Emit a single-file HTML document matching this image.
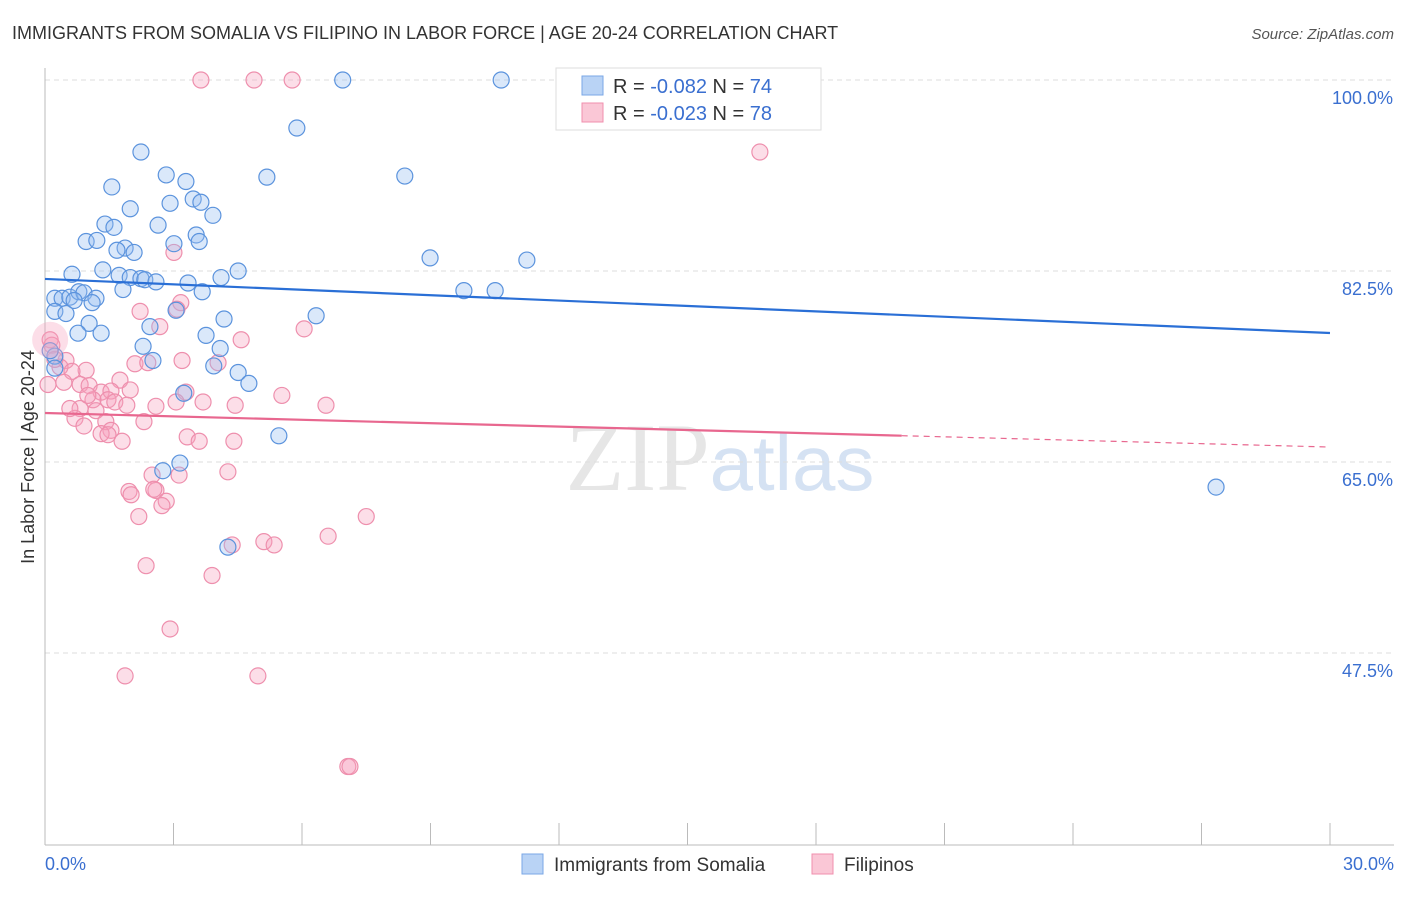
<!DOCTYPE html>
<html><head><meta charset="utf-8"><style>
body{margin:0;background:#fff;font-family:"Liberation Sans",sans-serif;}
</style></head><body>
<svg id="chart" width="1406" height="892" xmlns="http://www.w3.org/2000/svg" font-family="Liberation Sans, sans-serif">
<text x="12" y="39" font-size="18" fill="#333">IMMIGRANTS FROM SOMALIA VS FILIPINO IN LABOR FORCE | AGE 20-24 CORRELATION CHART</text>
<text x="1394" y="39" font-size="15" fill="#555" text-anchor="end" font-style="italic">Source: ZipAtlas.com</text>
<text x="720" y="490" font-size="96" text-anchor="middle" fill="#e6e6e6" font-family="Liberation Serif, serif">ZIP<tspan fill="#d5e2f3" font-family="Liberation Sans, sans-serif" font-size="78">atlas</tspan></text>
<g id="grid"></g>
<g id="axes"></g>
<g id="points"></g>
<g id="trends"></g>
<text transform="translate(34,457) rotate(-90)" font-size="18" fill="#333" text-anchor="middle">In Labor Force | Age 20-24</text>
<text x="45" y="870" font-size="18" fill="#3a6fd0">0.0%</text>
<text x="1394" y="870" font-size="18" fill="#3a6fd0" text-anchor="end">30.0%</text>
<g>
<rect x="556" y="68" width="265" height="62" fill="#fff" stroke="#ddd"/>
<rect x="582" y="76" width="21" height="19" fill="#b9d3f5" stroke="#7aa7e6"/>
<rect x="582" y="103" width="21" height="19" fill="#fac7d6" stroke="#f08fae"/>
<text x="613" y="93" font-size="20" fill="#333">R = <tspan fill="#3a6fd0">-0.082</tspan>   N = <tspan fill="#3a6fd0">74</tspan></text>
<text x="613" y="120" font-size="20" fill="#333">R = <tspan fill="#3a6fd0">-0.023</tspan>   N = <tspan fill="#3a6fd0">78</tspan></text>
</g>
<g>
<rect x="522" y="854" width="21" height="20" fill="#b9d3f5" stroke="#7aa7e6"/>
<text x="554" y="871" font-size="19" fill="#333">Immigrants from Somalia</text>
<rect x="812" y="854" width="21" height="20" fill="#fac7d6" stroke="#f08fae"/>
<text x="844" y="871" font-size="19" fill="#333">Filipinos</text>
</g>
</svg>
<script>
const yTicks=[100,82.5,65,47.5];
const yTickLabels=["100.0%","82.5%","65.0%","47.5%"];
const xTicks=[0,3,6,9,12,15,18,21,24,27,30];
const blueX=[6.95,10.65,5.88,2.24,2.83,3.29,5.18,8.40,1.56,3.46,2.92,3.64,1.99,3.92,1.40,1.61,2.64,3.53,0.96,1.21,3.01,3.60,1.87,1.68,2.08,8.99,11.25,1.35,0.63,1.73,1.99,2.24,2.33,2.59,3.34,4.11,4.51,1.82,3.67,9.78,10.51,0.23,0.40,0.58,0.79,0.91,1.19,1.10,0.68,0.23,0.49,3.06,4.18,6.33,1.03,2.45,0.77,1.31,3.76,2.29,4.09,0.23,2.52,3.94,4.51,4.76,3.24,0.23,5.46,3.15,2.75,4.27,27.34,0.12];
const blueY=[100,100,95.6,93.4,91.3,90.7,91.1,91.2,90.2,89.1,88.7,88.8,88.2,87.6,86.8,86.5,86.7,85.8,85.2,85.3,85.0,85.2,84.6,84.4,84.2,83.7,83.5,82.6,82.2,82.1,81.9,81.8,81.7,81.5,81.4,81.9,82.5,80.8,80.6,80.7,80.7,80.0,80.0,80.1,80.6,80.5,80.0,79.6,79.8,78.8,78.6,78.9,78.1,78.4,77.7,77.4,76.8,76.8,76.6,75.6,75.4,74.7,74.3,73.8,73.2,72.2,71.3,73.6,67.4,64.9,64.2,57.2,62.7,75.2];
const pinkX=[3.64,4.88,5.77,16.69,3.01,3.17,3.08,2.22,2.68,6.05,4.58,0.12,0.16,0.49,2.10,3.20,2.40,4.04,0.96,0.35,0.63,0.44,0.82,1.75,1.03,1.31,1.99,1.54,3.29,1.47,1.63,1.12,5.53,3.69,3.06,4.44,6.56,2.59,1.91,1.19,0.82,0.70,2.31,1.42,0.91,1.54,1.31,1.47,1.80,3.32,3.60,4.41,4.27,2.50,3.13,1.96,2.01,2.59,2.83,2.73,2.54,2.19,7.50,6.61,4.37,5.11,5.35,2.36,3.90,2.92,1.87,4.97,7.07,7.12,0.23,0.07,0.58,1.00];
const pinkY=[100,100,100,93.4,84.2,79.6,79.0,78.8,77.4,77.2,76.2,76.2,75.7,74.3,74.0,74.3,74.1,74.1,73.4,73.7,73.3,72.3,72.1,72.5,72.0,71.4,71.6,71.5,71.4,70.7,70.5,70.7,71.1,70.5,70.5,70.2,70.2,70.1,70.2,69.7,69.9,69.0,68.7,68.7,68.3,67.9,67.6,67.5,66.9,67.3,66.9,66.9,64.1,63.8,63.8,62.3,62.0,62.4,61.4,61.0,62.5,60.0,60.0,58.2,57.4,57.7,57.4,55.5,54.6,49.7,45.4,45.4,37.1,37.1,74.4,72.1,69.9,71.1];
const blueTrend=[81.77,76.82];
const pinkTrend=[69.49,66.37];
const pinkSolidEnd=20;
const NS="http://www.w3.org/2000/svg";
const xs=v=>45+v*42.833;
const ys=v=>80+(100-v)*10.914;
function mk(tag,attrs,parent){const e=document.createElementNS(NS,tag);for(const k in attrs)e.setAttribute(k,attrs[k]);document.getElementById(parent).appendChild(e);return e;}
yTicks.forEach((t,i)=>{
 const l=mk('line',{x1:45,x2:1394,y1:ys(t),y2:ys(t),stroke:'#ddd','stroke-dasharray':'5,4'},'grid');
 
 
 const tx=mk('text',{x:1393,y:ys(t)+24,'font-size':18,fill:'#3a6fd0','text-anchor':'end'},'grid');
 tx.textContent=yTickLabels[i];
 
 
});
const ax=mk('line',{x1:45,x2:45,y1:68,y2:845,stroke:'#bbb'},'axes');


const bx=mk('line',{x1:45,x2:1394,y1:845,y2:845,stroke:'#bbb'},'axes');


xTicks.forEach(t=>{const l=mk('line',{x1:xs(t),x2:xs(t),y1:823,y2:845,stroke:'#bbb'},'axes');
 
 });
pinkX.forEach((x,i)=>{const c=mk('circle',{cx:xs(x),cy:ys(pinkY[i]),r:8,fill:'rgba(246,160,188,0.35)',stroke:'#ee8fad','stroke-width':1.2},'points');
 
 });
blueX.forEach((x,i)=>{const c=mk('circle',{cx:xs(x),cy:ys(blueY[i]),r:8,fill:'rgba(150,190,240,0.35)',stroke:'#5b93dd','stroke-width':1.2},'points');
 
 });
const big=mk('circle',{cx:xs(0.12),cy:ys(76.2),r:18,fill:'rgba(246,160,188,0.35)',stroke:'none'},'points');


const bt=mk('line',{x1:xs(0),y1:ys(blueTrend[0]),x2:xs(30),y2:ys(blueTrend[1]),stroke:'#2a6fd6','stroke-width':2.2},'trends');


const pm=pinkTrend[0]+(pinkTrend[1]-pinkTrend[0])*pinkSolidEnd/30;
const pt=mk('line',{x1:xs(0),y1:ys(pinkTrend[0]),x2:xs(pinkSolidEnd),y2:ys(pm),stroke:'#e8678f','stroke-width':2.2},'trends');


const pd=mk('line',{x1:xs(pinkSolidEnd),y1:ys(pm),x2:xs(30),y2:ys(pinkTrend[1]),stroke:'#e8678f','stroke-width':1.2,'stroke-dasharray':'6,5'},'trends');


</script>
</body></html>
